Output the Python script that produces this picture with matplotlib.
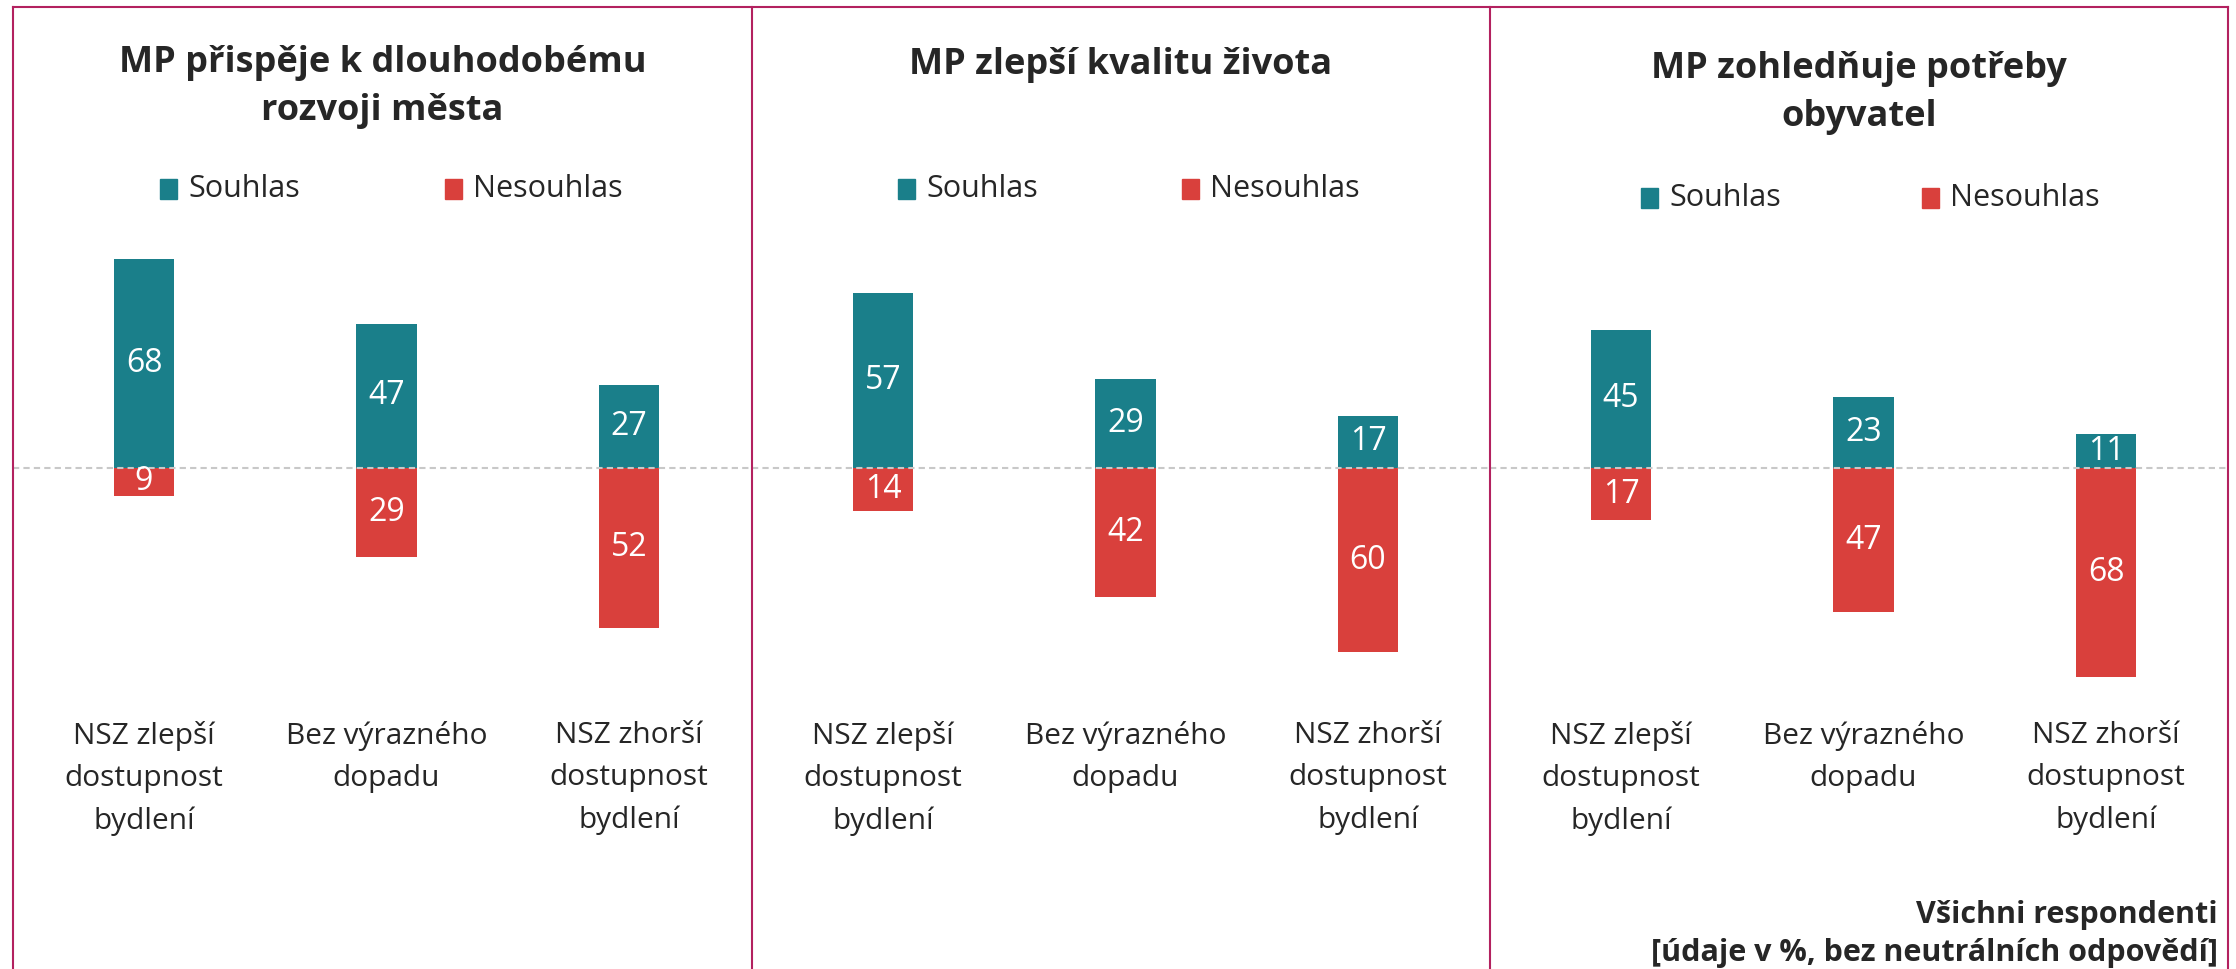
import matplotlib.pyplot as plt
from matplotlib.lines import Line2D
from matplotlib.patches import Rectangle

plt.rcParams["font.family"] = ["Open Sans", "DejaVu Sans"]

# %% data
categories = ["NSZ zlepší\ndostupnost\nbydlení", "Bez výrazného\ndopadu", "NSZ zhorší\ndostupnost\nbydlení"]
titles = ["MP přispěje k dlouhodobému\nrozvoji města", "MP zlepší kvalitu života", "MP zohledňuje potřeby\nobyvatel"]
souhlas_rozvoj = [68, 47, 27]
nesouhlas_rozvoj = [9, 29, 52]
souhlas_kvalita = [57, 29, 17]
nesouhlas_kvalita = [14, 42, 60]
souhlas_potreby = [45, 23, 11]
nesouhlas_potreby = [17, 47, 68]
legend_labels = ["Souhlas", "Nesouhlas"]
note = "Všichni respondenti\n[údaje v %, bez neutrálních odpovědí]"

TEAL = "#1a7f8a"
RED = "#d9403c"
TEXT = "#262626"
BORDER = "#b3215f"

W, H = 2236, 969
fig = plt.figure(figsize=(W / 100, H / 100), dpi=100)


def fx(px):
    return px / W


def fy(py):
    return 1 - py / H


panels = [(13, 752), (752, 1490), (1490, 2228)]
series = [(souhlas_rozvoj, nesouhlas_rozvoj), (souhlas_kvalita, nesouhlas_kvalita), (souhlas_potreby, nesouhlas_potreby)]
title_y = [87, 65, 93]   # centre of title block in px
legend_y = [189, 189, 198]
legend_x = [(160, 445), (898, 1182), (1641, 1922)]

ax_top, ax_bot, zero_px, ppu = 240, 700, 468, 3.07
x = [0, 1, 2]

for i, (left, right) in enumerate(panels):
    ax = fig.add_axes([fx(left), fy(ax_bot), fx(right - left), (ax_bot - ax_top) / H])
    ax.set_xlim(-131 / 242.5, (right - left - 131) / 242.5)
    ax.set_ylim(-(ax_bot - zero_px) / ppu, (zero_px - ax_top) / ppu)
    pos, neg = series[i]
    ax.bar(x, pos, width=0.25, color=TEAL, zorder=2)
    ax.bar(x, [-v for v in neg], width=0.25, color=RED, zorder=2)
    ax.axhline(0, color="#c8c8c8", lw=1.5, ls=(0, (3, 2)), zorder=3)
    for xi, v in zip(x, pos):
        ax.text(xi, v / 2, str(v), ha="center", va="center", color="white", fontsize=23, zorder=4)
    for xi, v in zip(x, neg):
        ax.text(xi, -v / 2, str(v), ha="center", va="center", color="white", fontsize=23, zorder=4)
    for xi, lab in zip(x, categories):
        ax.text(xi, -0.045, lab, transform=ax.get_xaxis_transform(), ha="center", va="top",
                fontsize=21.5, color=TEXT, linespacing=1.6)
    ax.axis("off")

    # title
    fig.text(fx((left + right) / 2), fy(title_y[i]), titles[i], ha="center", va="center",
             fontsize=26, fontweight="bold", color=TEXT, linespacing=1.45)

    # legend
    for lx, col, lab in zip(legend_x[i], [TEAL, RED], legend_labels):
        fig.patches.append(Rectangle((fx(lx), fy(legend_y[i] + 10)), fx(17), 20 / H,
                                     transform=fig.transFigure, color=col))
        fig.text(fx(lx + 28), fy(legend_y[i]), lab, ha="left", va="center", fontsize=22, color=TEXT)

# panel borders
fig.lines.append(Line2D([fx(13), fx(2228)], [fy(7), fy(7)], transform=fig.transFigure, color=BORDER, lw=1.5))
for bx in [13, 752, 1490, 2228]:
    fig.lines.append(Line2D([fx(bx), fx(bx)], [fy(7), 0], transform=fig.transFigure, color=BORDER, lw=1.5))

fig.text(fx(2218), fy(934), note, ha="right", va="center", fontsize=22, fontweight="bold",
         color=TEXT, linespacing=1.35)

plt.savefig("out.png", dpi=100)
